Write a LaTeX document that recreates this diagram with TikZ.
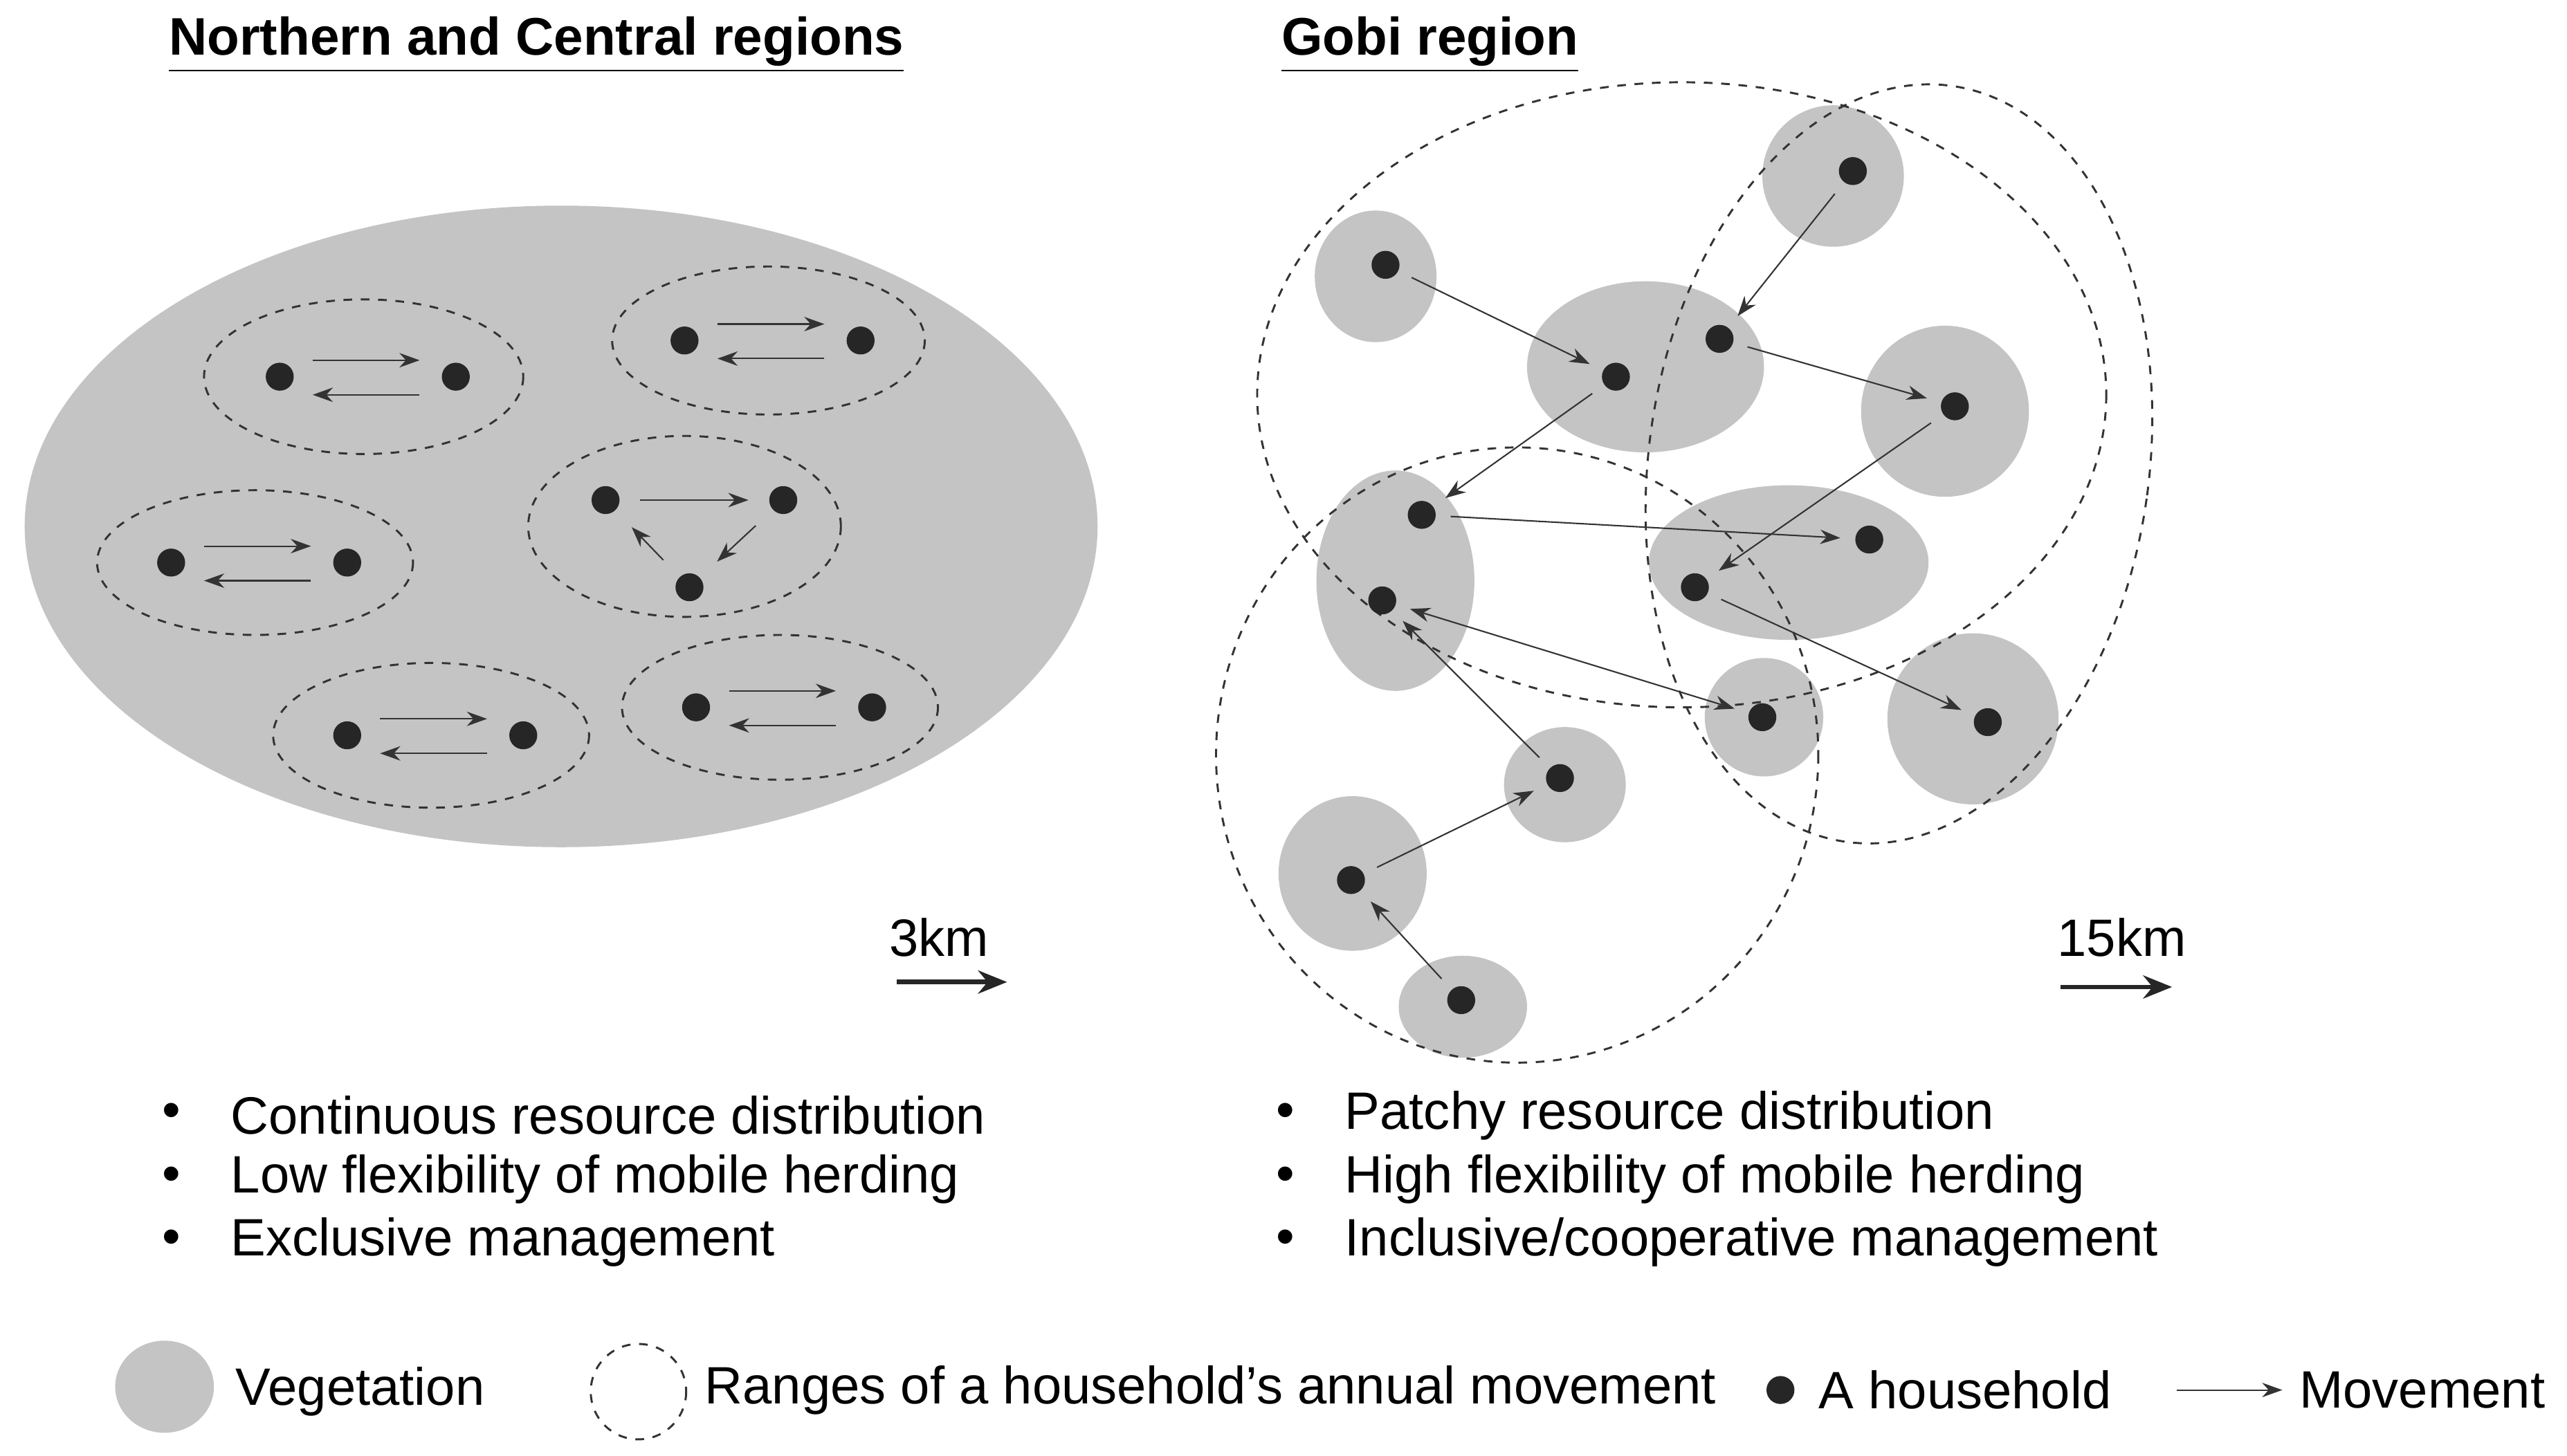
\documentclass[tikz,border=0pt]{standalone}
\usepackage{fontspec}
\setmainfont{Liberation Sans}
\usetikzlibrary{arrows.meta}
\definecolor{veg}{RGB}{196,196,196}
\begin{document}
\begin{tikzpicture}[x=0.02cm,y=-0.02cm,
  veg/.style={fill=veg,draw=none},
  rng/.style={draw=black!80,dashed,line width=0.7pt},
  hh/.style={circle,fill=black!85,inner sep=0pt,minimum size=0.34cm},
  mv/.style={-{Stealth[length=7pt,width=5pt]},line width=0.5pt,black!80},
  sc/.style={-{Stealth[length=10pt,width=8pt]},line width=1.6pt,black!85},
  txt/.style={font=\fontsize{18.2}{21}\selectfont,anchor=west,inner sep=0pt},
  ttl/.style={font=\fontsize{18.3}{21}\selectfont\bfseries,inner sep=0pt}]
\fill[white] (0,0) rectangle (1560,885);
% titles
\node[ttl] (t1) at (326,27) {\underline{Northern and Central regions}};
\node[ttl] (t2) at (869,27) {\underline{Gobi region}};
% left
\fill[veg] (341,320) ellipse [x radius=326,y radius=195];
\foreach \n/\cx/\cy/\rx/\ry in {a/221/229/97/47,b/467/207/95/45,c/155/342/96/44,e/262/447/96/44,f/474/430/96/44}{
  \draw[rng] (\cx,\cy) ellipse [x radius=\rx,y radius=\ry];
  \pgfmathsetmacro\xl{\cx-51}\pgfmathsetmacro\xr{\cx+56}
  \node[hh] (\n1) at (\xl,\cy) {};
  \node[hh] (\n2) at (\xr,\cy) {};
  \pgfmathsetmacro\ya{\cy-10}\pgfmathsetmacro\yb{\cy+11}
  \pgfmathsetmacro\xa{\cx-31}\pgfmathsetmacro\xb{\cx+34}
  \coordinate (\n s) at (\xa,\ya); \coordinate (\n t) at (\xb,\ya);
  \coordinate (\n u) at (\xb,\yb); \coordinate (\n v) at (\xa,\yb);
  \draw[mv] (\n s) -- (\n t);
  \draw[mv] (\n u) -- (\n v);
}
\draw[rng] (416,320) ellipse [x radius=95,y radius=55];
\node[hh] (d1) at (368,304) {};
\node[hh] (d2) at (476,304) {};
\node[hh] (d3) at (419,357) {};
\draw[mv,shorten <=7pt,shorten >=7pt] (d1) -- (d2);
\draw[mv,shorten <=8pt,shorten >=8pt] (d3) -- (d1);
\draw[mv,shorten <=8pt,shorten >=8pt] (d2) -- (d3);
% scale arrows
\node[txt] (s1) at (540,570) {3km};
\coordinate (s1a) at (545,597); \coordinate (s1b) at (612,597);
\draw[sc] (s1a) -- (s1b);
\node[txt] (s2) at (1250,570) {15km};
\coordinate (s2a) at (1252,600); \coordinate (s2b) at (1320,600);
\draw[sc] (s2a) -- (s2b);
% right vegetation
\foreach \cx/\cy/\rx/\ry in {836/168/37/40,1114/107/43/43,1000/223/72/52,1182/250/51/52,848/353/48/67,1087/342/85/47,1072/436/36/36,1199/437/52/52,951/477/37/35,822/531/45/47,889/612/39/31}
  \fill[veg] (\cx,\cy) ellipse [x radius=\rx,y radius=\ry];
\draw[rng] (1022,240) ellipse [x radius=258,y radius=190];
\draw[rng,rotate around={-8:(1154,282)}] (1154,282) ellipse [x radius=152,y radius=232];
\draw[rng] (922,459) ellipse [x radius=183,y radius=187];
\foreach \n/\x/\y in {A/842/161,B/1126/104,C/982/229,D/1045/206,E/1188/247,F/864/313,G/1136/328,H/840/365,I/1030/357,J/1071/436,K/1208/439,L/948/473,M/821/535,N/888/608}
  \node[hh] (\n) at (\x,\y) {};
\foreach \a/\b in {A/C,B/D,D/E,C/F,F/G,E/I,I/K,L/H,M/L,N/M}
  \draw[mv,shorten <=5pt,shorten >=5pt] (\a) -- (\b);
\draw[mv,{Stealth[length=7pt,width=5pt]}-{Stealth[length=7pt,width=5pt]},shorten <=5pt,shorten >=5pt] (H) -- (J);
% bullets
\foreach \n/\x/\y/\t in {p1/140/678/Continuous resource distribution,p2/140/717/Low flexibility of mobile herding,p3/140/755/Exclusive management,q1/817/678/Patchy resource distribution,q2/817/717/High flexibility of mobile herding}{
  \node[txt] (\n) at (\x,\y) {\t};
  \node[txt,anchor=east] (\n b) at (\x-30,\y) {\textbullet};
}
\node[txt] (q3) at (817,755) {Inclusive/cooperative management};
\node[txt,anchor=east] (q3b) at (787,755) {\textbullet};
% legend
\fill[veg] (100,843) ellipse [x radius=30,y radius=28];
\node[txt] (l1) at (143,846) {Vegetation};
\draw[rng] (388,846) circle [radius=29];
\node[txt] (l2) at (428,845) {Ranges of a household’s annual movement};
\node[hh] (l3d) at (1082,845) {};
\node[txt] (l3) at (1105,845) {A household};
\coordinate (l4a) at (1323,845); \coordinate (l4b) at (1387,845);
\draw[mv] (l4a) -- (l4b);
\node[txt] (l4) at (1397,845) {Movement};
\end{tikzpicture}
\end{document}
